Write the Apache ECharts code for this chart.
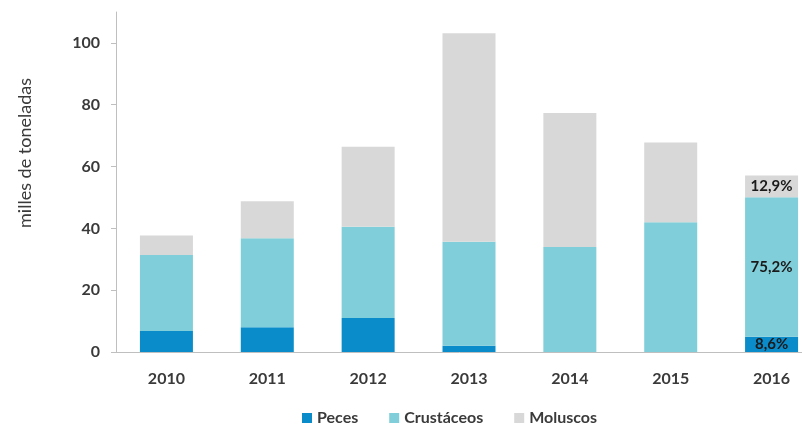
<!DOCTYPE html>
<html>
<head>
<meta charset="utf-8">
<title>Capturas por grupo</title>
<script src="https://cdn.jsdelivr.net/npm/echarts@6/dist/echarts.min.js"></script>
<style>
  html, body { margin: 0; padding: 0; background: #fff; }
  #chart { width: 802px; height: 425px; }
</style>
</head>
<body>
<div id="chart"></div>
<script>
// años
var years = ['2010', '2011', '2012', '2013', '2014', '2015', '2016'];
// miles de toneladas por grupo
var peces = [6.8, 8.0, 11.0, 2.0, 0, 0, 4.9];
var crustaceos = [24.6, 28.8, 29.5, 33.7, 34.0, 42.0, 45.2];
var moluscos = [6.3, 12.0, 25.9, 67.4, 43.3, 25.8, 7.0];
// porcentajes de 2016
var pct2016 = { peces: '8,6%', crustaceos: '75,2%', moluscos: '12,9%' };

var fontFam = 'Lato, "Open Sans", sans-serif';
var txtColor = '#3a3a3a';

// solo la última barra lleva etiqueta
function withLabel(values, text) {
    return values.map(function (v, i) {
        if (i !== values.length - 1) return v;
        return {
            value: v,
            label: {
                show: true,
                formatter: text,
                color: '#1a1a1a',
                fontWeight: 'bold',
                fontSize: 15,
                fontFamily: fontFam
            }
        };
    });
}

var myChart = echarts.init(document.getElementById('chart'));
myChart.setOption({
    animation: false,
    grid: { left: 116, width: 706, top: 12, height: 340, outerBoundsMode: 'none', containLabel: false },
    legend: {
        left: 297,
        top: 405,
        itemWidth: 10,
        itemHeight: 10,
        itemGap: 31,
        icon: 'rect',
        textStyle: { color: txtColor, fontSize: 16, fontWeight: 'bold', fontFamily: fontFam },
        data: ['Peces', 'Crustáceos', 'Moluscos']
    },
    graphic: [{
        type: 'text',
        x: 25,
        y: 153,
        rotation: Math.PI / 2,
        style: {
            text: 'milles de toneladas',
            fill: txtColor,
            fontSize: 18,
            fontFamily: fontFam,
            align: 'center',
            verticalAlign: 'middle'
        }
    }],
    xAxis: {
        type: 'category',
        data: years,
        axisLine: { lineStyle: { color: '#bfbfbf', width: 1 } },
        axisTick: { length: 5, lineStyle: { color: '#bfbfbf' } },
        axisLabel: { margin: 19, color: txtColor, fontSize: 16, fontWeight: 'bold', fontFamily: fontFam }
    },
    yAxis: {
        type: 'value',
        min: 0,
        max: 110,
        interval: 20,
        splitLine: { show: false },
        axisLine: { show: true, lineStyle: { color: '#bfbfbf', width: 1 } },
        axisTick: { show: true, length: 5, lineStyle: { color: '#bfbfbf' } },
        axisLabel: { showMaxLabel: false, margin: 16, color: txtColor, fontSize: 16, fontWeight: 'bold', fontFamily: fontFam }
    },
    series: [
        {
            name: 'Peces',
            type: 'bar',
            stack: 'total',
            barWidth: 53,
            itemStyle: { color: '#0a8ccb' },
            data: withLabel(peces, pct2016.peces)
        },
        {
            name: 'Crustáceos',
            type: 'bar',
            stack: 'total',
            barWidth: 53,
            itemStyle: { color: '#80ced9' },
            data: withLabel(crustaceos, pct2016.crustaceos)
        },
        {
            name: 'Moluscos',
            type: 'bar',
            stack: 'total',
            barWidth: 53,
            itemStyle: { color: '#d8d8d8' },
            data: withLabel(moluscos, pct2016.moluscos)
        }
    ]
});
</script>
</body>
</html>
